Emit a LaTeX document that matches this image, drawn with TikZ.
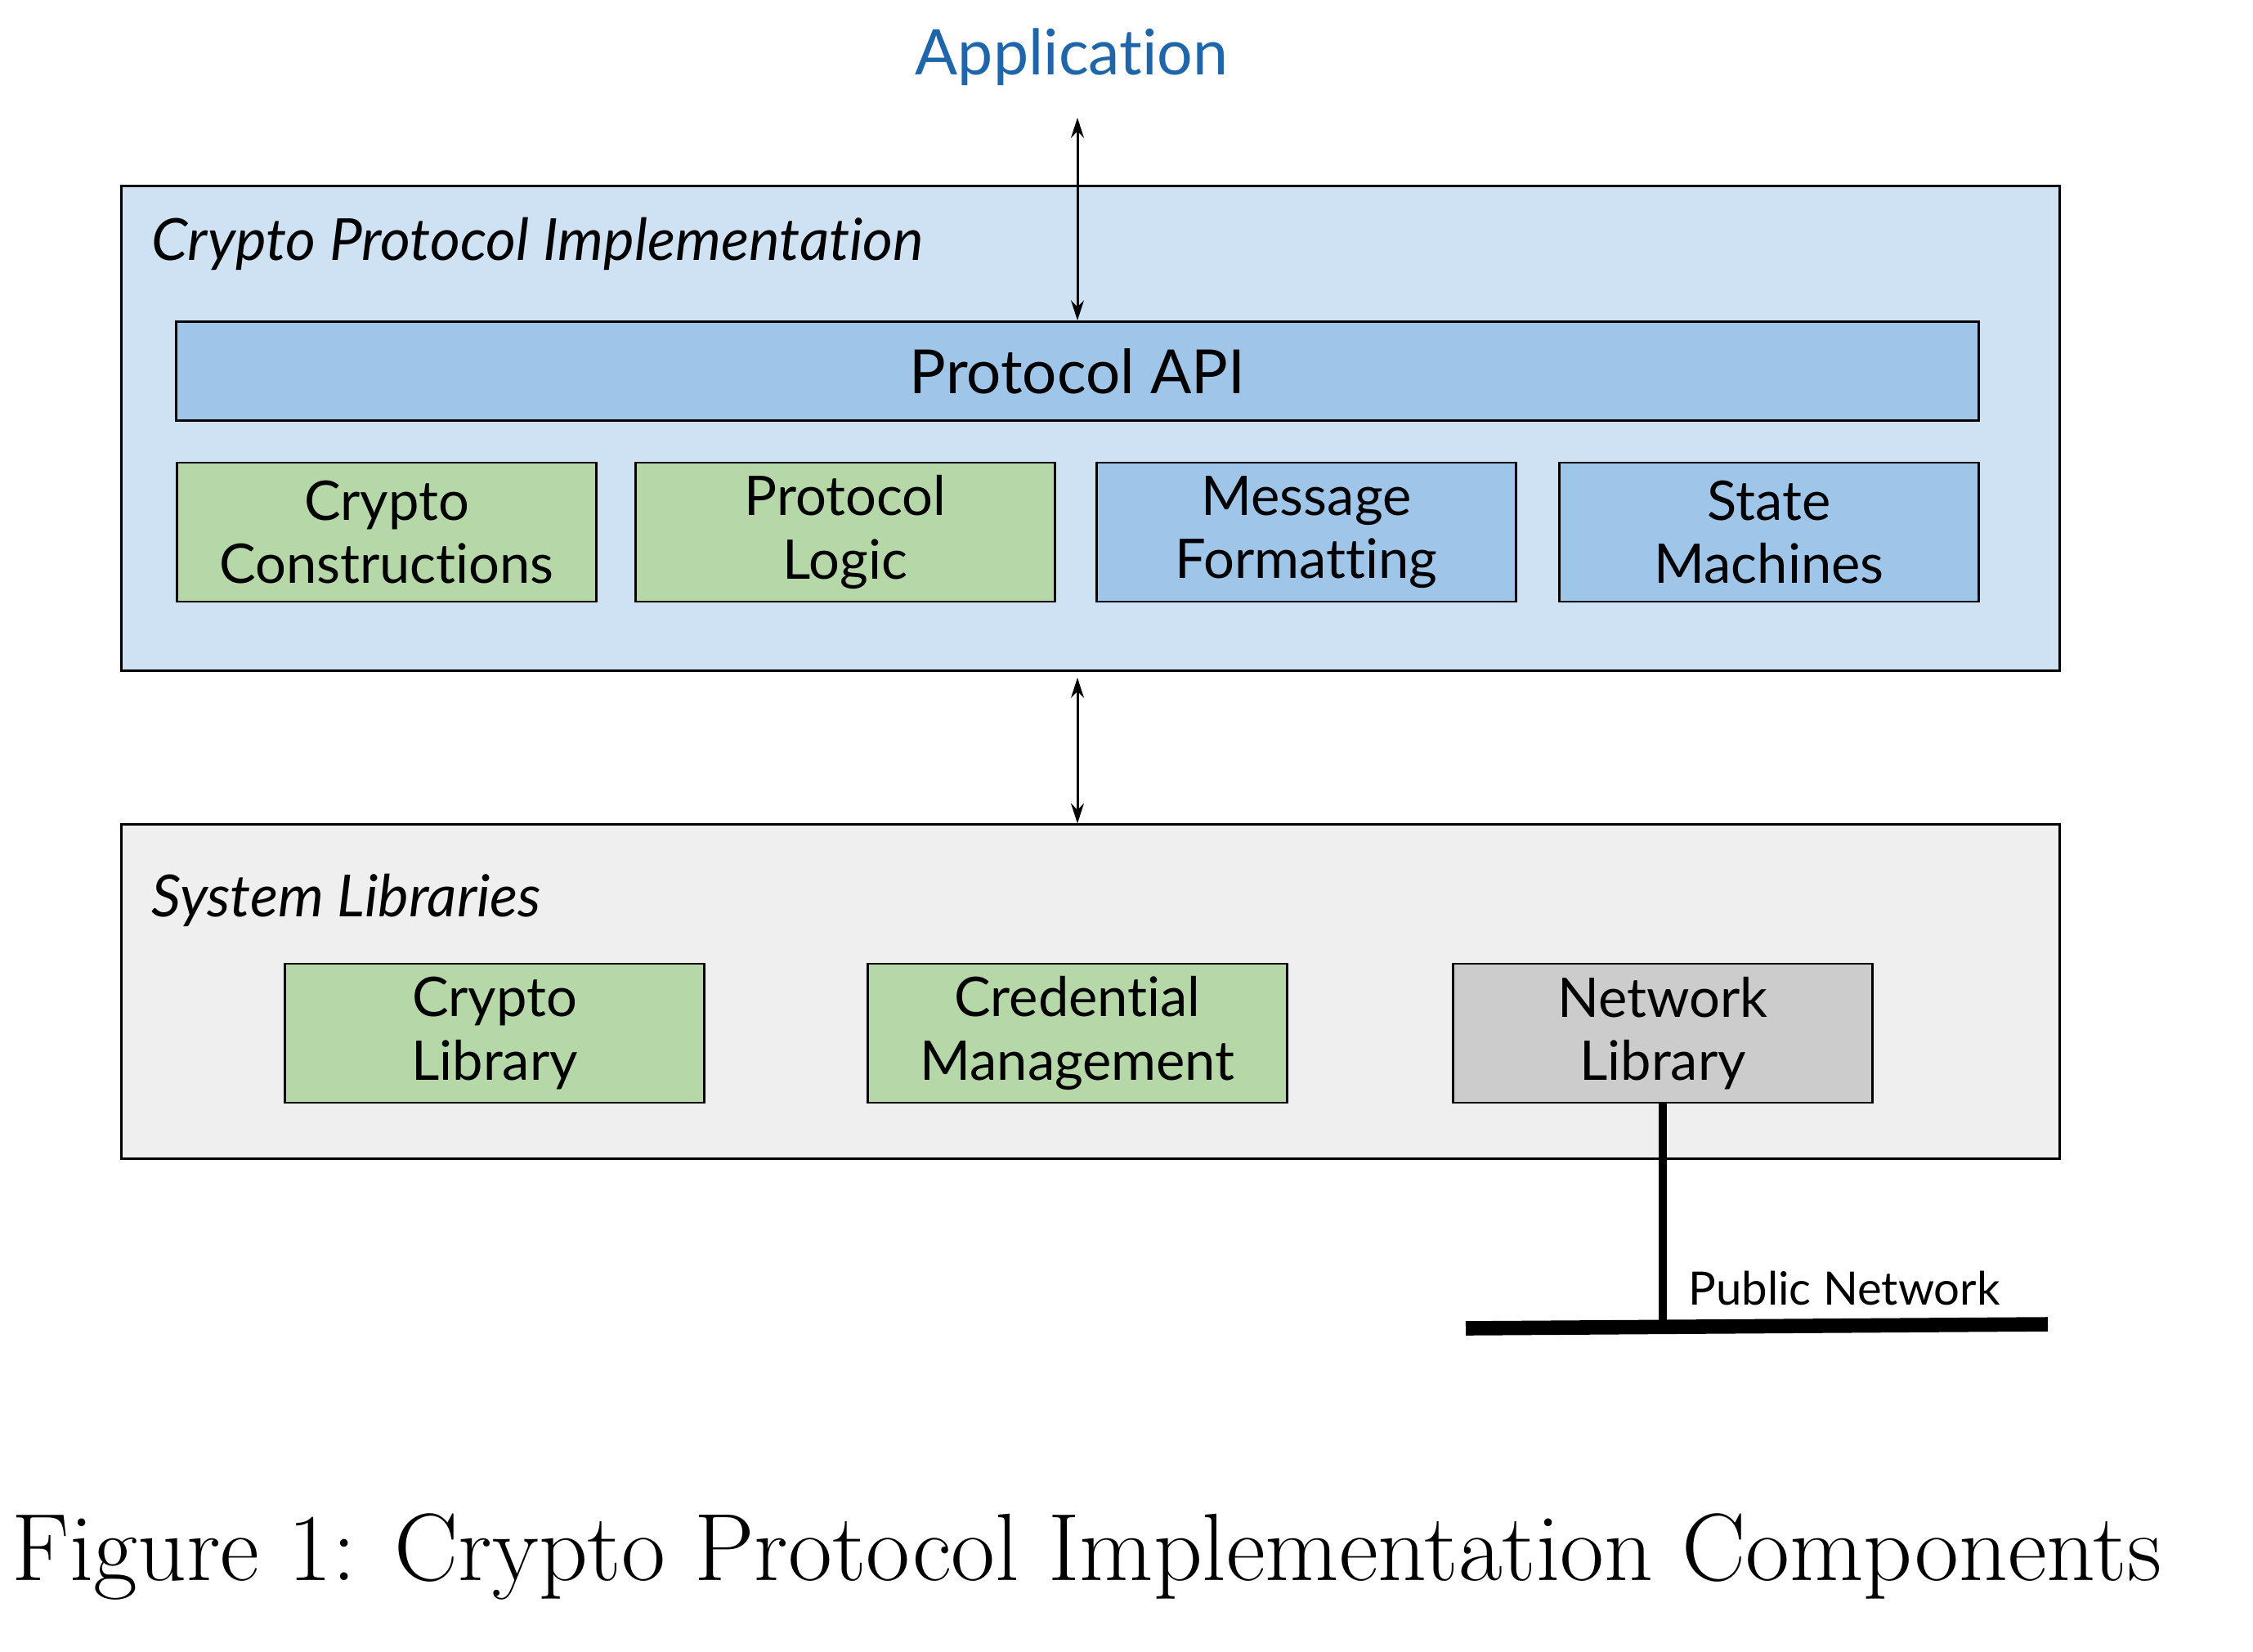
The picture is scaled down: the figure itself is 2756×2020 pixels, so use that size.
\documentclass[tikz,border=0pt]{standalone}
\usepackage{fontspec}
\usetikzlibrary{arrows.meta}
\newfontfamily\diafont[Ligatures={NoCommon,NoRare}]{Lato}
\definecolor{panelblue}{HTML}{CFE2F3}
\definecolor{boxblue}{HTML}{9FC5E8}
\definecolor{boxgreen}{HTML}{B6D7A8}
\definecolor{panelgrey}{HTML}{EFEFEF}
\definecolor{boxgrey}{HTML}{CCCCCC}
\definecolor{appblue}{HTML}{1F65AA}

\begin{document}
\begin{tikzpicture}[x=0.01cm, y=-0.01cm,
    panel/.style={draw, line width=0.8pt, minimum width=23.7cm, inner sep=0pt},
    part/.style={draw, line width=0.8pt, minimum width=5.12cm, minimum height=1.7cm,
                 inner sep=0pt, align=center, font=\diafont\fontsize{19}{22}\selectfont},
    greenbox/.style={part, fill=boxgreen},
    bluebox/.style={part, fill=boxblue},
    greybox/.style={part, fill=boxgrey},
    paneltitle/.style={anchor=base west, inner sep=0pt, font=\diafont\itshape\fontsize{20.2}{24}\selectfont},
    link/.style={line width=0.85pt, {Stealth[length=7pt,width=4.5pt]}-{Stealth[length=7pt,width=4.5pt]}}]

   \useasboundingbox (0,0) rectangle (2756,2020);

   % panels
   \node [panel, fill=panelblue, minimum height=5.93cm] (cpi) at (1334,524) {};
   \node [panel, fill=panelgrey, minimum height=4.08cm] (sys) at (1334,1213) {};
   \node [paneltitle] (cpititle) at (185,318) {Crypto Protocol Implementation};
   \node [paneltitle] (systitle) at (185,1121) {System Libraries};

   % protocol implementation parts
   \node [bluebox, minimum width=22.04cm, minimum height=1.21cm,
          font=\diafont\fontsize{21.2}{24}\selectfont] (api) at (1318,454) {Protocol API};
   \foreach \x/\s/\n/\t in {473/greenbox/cc/{Crypto\\Constructions},
                            1034/greenbox/pl/{Protocol\\Logic},
                            1598/bluebox/mf/{Message\\Formatting},
                            2164/bluebox/sm/{State\\Machines}}
     \node [\s] (\n) at (\x,651) {\t};

   % system library parts
   \foreach \x/\s/\n/\t in {605/greenbox/cl/{Crypto\\Library},
                            1318/greenbox/cm/{Credential\\Management},
                            2034/greybox/nl/{Network\\Library}}
     \node [\s] (\n) at (\x,1264) {\t};

   % application and arrows
   \node [anchor=base, inner sep=0pt, text=appblue,
          font=\diafont\fontsize{21.9}{26}\selectfont] (app) at (1311,91) {Application};
   \coordinate (apptip) at (1318,144);
   \draw [link] (apptip) -- (api.north);
   \draw [link] ([yshift=-0.07cm]api.south |- cpi.south) -- (api.south |- sys.north);

   % public network
   \coordinate (netleft) at (1793,1625);
   \coordinate (netright) at (2505,1620);
   \draw [line width=5pt] (netleft) -- (netright);
   \draw [line width=2.6pt] (nl.south) -- (nl.south |- netleft);
   \node [anchor=base west, inner sep=0pt,
          font=\diafont\fontsize{16}{19}\selectfont] (pubnet) at (2065,1596) {Public Network};

   % caption
   \node [anchor=base west, inner sep=0pt, font=\fontsize{33.3}{40}\selectfont] (caption) at (14,1933)
        {Figure 1: Crypto Protocol Implementation Components};

\end{tikzpicture}
\end{document}
